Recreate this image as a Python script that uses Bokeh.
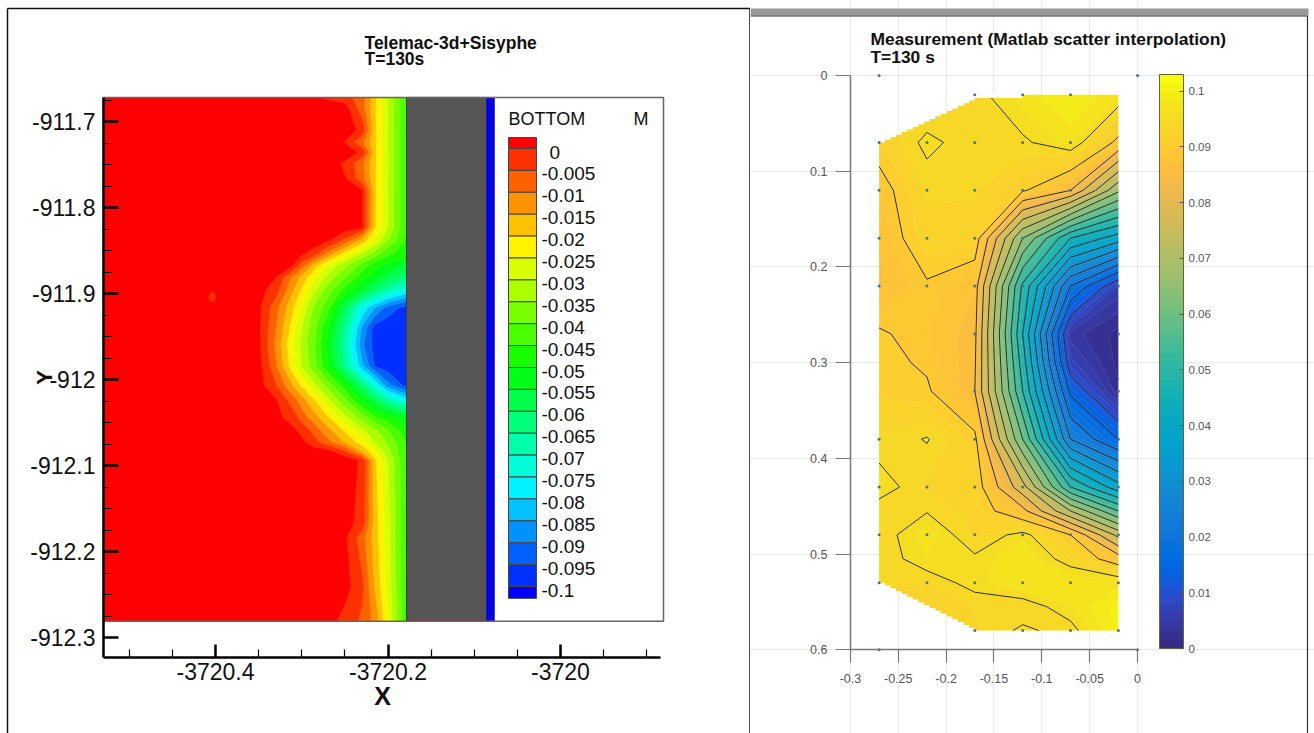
from bokeh.plotting import figure
from bokeh.layouts import row
from bokeh.embed import file_html
from bokeh.resources import INLINE
from bokeh.core.properties import value
from bokeh.models import Range1d, FixedTicker, ColorBar, LinearColorMapper
import numpy as np

FONT = "Liberation Sans"

# ---------- left panel data: Telemac-3d+Sisyphe, BOTTOM (m) ----------
left_title = ["Telemac-3d+Sisyphe", "T=130s"]
tec_x = [-3720.53, -3720.40, -3720.35, -3720.33, -3720.31, -3720.30, -3720.285,
         -3720.27, -3720.25, -3720.23, -3720.215, -3720.20, -3720.1786]
tec_y = [-911.672, -911.684, -911.710, -911.724, -911.736, -911.748, -911.766, -911.780,
         -911.823, -911.838, -911.853, -911.867, -911.881, -911.897, -911.916, -911.940,
         -911.960, -911.984, -912.007, -912.024, -912.044, -912.059, -912.073, -912.085,
         -912.094, -912.167, -912.184, -912.242, -912.281]
tec_z = [
 [.003,.003,.003,.003,.003,.003,.001,-.001,-.003,-.008,-.0195,-.030,-.0455],
 [.003,.003,.003,.003,.003,.003,.003,.003,.002,-.008,-.0195,-.030,-.0455],
 [.003,.003,.003,.003,.003,.003,.003,.003,.004,-.002,-.0195,-.030,-.0455],
 [.003,.003,.003,.003,.003,.003,.003,.003,-.0003,-.009,-.0195,-.030,-.0455],
 [.003,.003,.003,.003,.003,.003,.003,.003,.004,-.0015,-.0195,-.030,-.0455],
 [.003,.003,.003,.003,.003,.003,.003,.003,-.001,-.009,-.0195,-.030,-.0455],
 [.003,.003,.003,.003,.003,.003,.003,.003,.0002,-.008,-.0195,-.030,-.0455],
 [.003,.003,.003,.003,.003,.003,.003,.003,.004,.0002,-.0195,-.030,-.0455],
 [.003,.003,.003,.003,.003,.003,.003,.003,.003,0,-.020,-.030,-.0455],
 [.003,.003,.003,.003,.003,.003,.003,.001,-.0065,-.017,-.0255,-.035,-.046],
 [.003,.003,.003,.003,.002,.001,-.0026,-.011,-.0216,-.0305,-.037,-.0435,-.048],
 [.003,.003,.003,.002,0,-.007,-.0177,-.0258,-.0338,-.0417,-.048,-.051,-.056],
 [.003,.003,.003,0,-.0116,-.0167,-.0245,-.0315,-.0395,-.048,-.053,-.058,-.063],
 [.003,.003,.002,-.003,-.015,-.021,-.030,-.038,-.047,-.0555,-.062,-.069,-.077],
 [.003,.003,.001,-.0082,-.0197,-.0258,-.0365,-.0428,-.059,-.0755,-.085,-.092,-.097],
 [.003,.003,.001,-.010,-.023,-.030,-.039,-.0495,-.065,-.0865,-.0975,-.0985,-.0995],
 [.003,.003,.001,-.0112,-.0253,-.0315,-.040,-.0515,-.0675,-.089,-.0975,-.0985,-.0995],
 [.003,.003,.002,-.0095,-.024,-.0305,-.039,-.0495,-.065,-.084,-.096,-.098,-.0995],
 [.003,.003,.002,-.0045,-.0155,-.021,-.029,-.037,-.048,-.0615,-.074,-.0885,-.097],
 [.003,.003,.003,.0005,-.008,-.0129,-.0203,-.0285,-.039,-.0506,-.059,-.067,-.077],
 [.003,.003,.003,.0015,-.0025,-.0075,-.0135,-.0198,-.029,-.0375,-.0445,-.048,-.054],
 [.003,.003,.003,.003,.001,-.0014,-.0075,-.0135,-.021,-.0285,-.034,-.040,-.048],
 [.003,.003,.003,.003,.003,.001,-.003,-.0085,-.0155,-.023,-.030,-.036,-.0455],
 [.003,.003,.003,.003,.003,.003,.003,.003,-.003,-.015,-.024,-.033,-.0455],
 [.003,.003,.003,.003,.003,.003,.003,.003,.003,-.001,-.0195,-.030,-.0455],
 [.003,.003,.003,.003,.003,.003,.003,.003,.002,-.002,-.018,-.028,-.0455],
 [.003,.003,.003,.003,.003,.003,.003,.003,.001,-.008,-.018,-.028,-.0455],
 [.003,.003,.003,.003,.003,.003,.003,.003,.002,-.004,-.016,-.027,-.0455],
 [.003,.003,.003,.003,.003,.003,.003,.002,-.002,-.006,-.012,-.025,-.0455],
]
tec_levels = [-.2, -.1, -.095, -.09, -.085, -.08, -.075, -.07, -.065, -.06, -.055, -.05,
              -.045, -.04, -.035, -.03, -.025, -.02, -.015, -.01, -.005, 0, .1]
tec_colors = ["#0000ff", "#0030ff", "#0061ff", "#0092ff", "#00c2ff", "#00f3ff", "#00ffd9",
              "#00ffaa", "#00ff79", "#00ff49", "#00ff18", "#18ff00", "#49ff00", "#79ff00",
              "#aaff00", "#d9ff00", "#fff300", "#ffc200", "#ff9200", "#ff6100", "#ff3000",
              "#ff0000"]
legend_tops = [.0025, 0, -.005, -.01, -.015, -.02, -.025, -.03, -.035, -.04, -.045, -.05,
               -.055, -.06, -.065, -.07, -.075, -.08, -.085, -.09, -.095, -.1]
legend_bottoms = legend_tops[1:] + [-.1027]
legend_label_values = [-.005, -.01, -.015, -.02, -.025, -.03, -.035, -.04, -.045, -.05, -.055,
                       -.06, -.065, -.07, -.075, -.08, -.085, -.09, -.095, -.1]
legend_labels = ["-0.005", "-0.01", "-0.015", "-0.02", "-0.025", "-0.03", "-0.035", "-0.04",
                 "-0.045", "-0.05", "-0.055", "-0.06", "-0.065", "-0.07", "-0.075", "-0.08",
                 "-0.085", "-0.09", "-0.095", "-0.1"]
tec_x_ticks = [-3720.4, -3720.2, -3720.0]
tec_x_labels = {-3720.4: "-3720.4", -3720.2: "-3720.2", -3720.0: "-3720"}
tec_x_minor = [-3720.5, -3720.45, -3720.35, -3720.3, -3720.25, -3720.15, -3720.1, -3720.05,
               -3719.95, -3719.9]
tec_y_ticks = [-911.7, -911.8, -911.9, -912.0, -912.1, -912.2, -912.3]
tec_y_labels = {-911.7: "-911.7", -911.8: "-911.8", -911.9: "-911.9", -912.0: "-912",
                -912.1: "-912.1", -912.2: "-912.2", -912.3: "-912.3"}
tec_y_minor = [-911.675, -911.725, -911.75, -911.775, -911.825, -911.85, -911.875, -911.925,
               -911.95, -911.975, -912.025, -912.05, -912.075, -912.125, -912.15, -912.175,
               -912.225, -912.25, -912.275]
spot_x = [-3720.408, -3720.403, -3720.399, -3720.402, -3720.407]
spot_y = [-911.902, -911.897, -911.903, -911.910, -911.909]

# ---------- right panel data: Measurement ----------
right_title = ["Measurement (Matlab scatter interpolation)", "T=130 s"]
meas_x = [-0.27, -0.22, -0.17, -0.12, -0.07, -0.02]
meas_y = [0.02, 0.07, 0.12, 0.17, 0.22, 0.27, 0.30, 0.33, 0.38, 0.43, 0.455, 0.48, 0.505, 0.53, 0.555, 0.58]
meas_z = [
 [.092, .092, .094, .0975, .100, .097],
 [.0915, .0958, .0935, .0945, .097, .089],
 [.0885, .0935, .0935, .0905, .085, .066],
 [.087, .093, .0925, .065, .045, .0375],
 [.0865, .0895, .087, .049, .020, .006],
 [.0905, .0885, .086, .045, .004, .001],
 [.091, .0895, .0855, .0475, .007, .001],
 [.0915, .0905, .085, .050, .014, .002],
 [.0935, .0952, .091, .060, .025, .015],
 [.0965, .093, .0925, .077, .050, .037],
 [.0935, .0948, .0925, .0865, .070, .055],
 [.0935, .0975, .093, .096, .090, .0735],
 [.0935, .0965, .0955, .098, .0935, .0875],
 [.0935, .0935, .096, .098, .098, .0975],
 [.092, .092, .0935, .0935, .0965, .1005],
 [.092, .092, .093, .0955, .094, .100],
]
line_levels = [.01, .015, .02, .025, .03, .035, .04, .045, .05, .055, .06, .065, .07, .075,
               .08, .085, .09, .095]
dot_x = [-.27, 0, -.17, -.12, -.07, -.27, -.22, -.17, -.12, -.07, -.27, -.22, -.17, -.12, -.07,
         -.27, -.22, -.17, -.12, -.27, -.22, -.17, -.12, -.02, -.17, -.02, -.17, -.02,
         -.27, -.17, -.02, -.27, -.22, -.17, -.12, -.07, -.02, -.27, -.22, -.17, -.12, -.07, -.02,
         -.27, -.22, -.17, -.12, -.07, -.02, -.17, -.12, -.07, -.02, -.27, 0]
dot_y = [0, 0, .02, .02, .02, .07, .07, .07, .07, .07, .12, .12, .12, .12, .12,
         .17, .17, .17, .17, .22, .22, .22, .22, .22, .27, .27, .33, .33,
         .38, .38, .38, .43, .43, .43, .43, .43, .43, .48, .48, .48, .48, .48, .48,
         .53, .53, .53, .53, .53, .53, .58, .58, .58, .58, .6, .6]
meas_x_ticks = [-.3, -.25, -.2, -.15, -.1, -.05, 0]
meas_x_labels = {-.3: "-0.3", -.25: "-0.25", -.2: "-0.2", -.15: "-0.15", -.1: "-0.1", -.05: "-0.05", 0: "0"}
meas_y_ticks = [0, .1, .2, .3, .4, .5, .6]
meas_y_labels = {0: "0", .1: "0.1", .2: "0.2", .3: "0.3", .4: "0.4", .5: "0.5", .6: "0.6"}
bar_ticks = [0, .01, .02, .03, .04, .05, .06, .07, .08, .09, .1]
bar_labels = {0: "0", .01: "0.01", .02: "0.02", .03: "0.03", .04: "0.04", .05: "0.05",
              .06: "0.06", .07: "0.07", .08: "0.08", .09: "0.09", .1: "0.1"}
bar_high = 0.103
parula_rgb = [
 (.2081,.1663,.5292),(.2116,.1898,.5777),(.2123,.2138,.6270),(.2081,.2386,.6771),(.1959,.2645,.7279),
 (.1707,.2919,.7792),(.1253,.3242,.8303),(.0591,.3598,.8683),(.0117,.3875,.8820),(.0060,.4086,.8828),
 (.0165,.4266,.8786),(.0329,.4430,.8720),(.0498,.4586,.8641),(.0629,.4737,.8554),(.0723,.4887,.8467),
 (.0779,.5040,.8384),(.0793,.5200,.8312),(.0749,.5375,.8263),(.0641,.5570,.8240),(.0488,.5772,.8228),
 (.0343,.5966,.8199),(.0265,.6137,.8135),(.0239,.6287,.8038),(.0231,.6418,.7913),(.0228,.6535,.7768),
 (.0267,.6642,.7607),(.0384,.6743,.7436),(.0590,.6838,.7254),(.0843,.6928,.7062),(.1133,.7015,.6859),
 (.1453,.7098,.6646),(.1801,.7177,.6424),(.2178,.7250,.6193),(.2586,.7317,.5954),(.3022,.7376,.5712),
 (.3482,.7424,.5473),(.3953,.7459,.5244),(.4420,.7481,.5033),(.4871,.7491,.4840),(.5300,.7491,.4661),
 (.5709,.7485,.4494),(.6099,.7473,.4337),(.6473,.7456,.4188),(.6834,.7435,.4044),(.7184,.7411,.3905),
 (.7525,.7384,.3768),(.7858,.7356,.3633),(.8185,.7327,.3498),(.8507,.7299,.3360),(.8824,.7274,.3217),
 (.9139,.7258,.3063),(.9450,.7261,.2886),(.9739,.7314,.2666),(.9938,.7455,.2403),(.9990,.7653,.2164),
 (.9955,.7861,.1967),(.9880,.8066,.1794),(.9789,.8271,.1633),(.9697,.8481,.1475),(.9626,.8705,.1309),
 (.9589,.8949,.1132),(.9598,.9218,.0948),(.9661,.9514,.0755),(.9763,.9831,.0538)]
parula = ["#%02x%02x%02x" % tuple(int(round(c * 255)) for c in t) for t in parula_rgb]

# Both panels use the whole canvas as the plot frame, so that every axis,
# text and panel edge can be placed in the frame. Page pixel <-> data:
def LX(px): return -3720.4 + (px - 215) / 862.5
def LY(py): return -911.7 - (py - 121) / 860.0
def RX(px): return (px - 1137) / 957.0
def RY(py): return (py - 75) / 957.0

# ================= LEFT =================
p1 = figure(width=750, height=733, output_backend="svg", toolbar_location=None,
            x_range=Range1d(LX(0), LX(750)), y_range=Range1d(LY(733), LY(0)),
            min_border=0, outline_line_color=None, background_fill_color="white")
p1.grid.visible = False
p1.extra_y_ranges["legend"] = Range1d(-(733 - 148) / 4380.0, 148 / 4380.0)

ax = np.array(tec_x); ay = np.array(tec_y)[::-1]; az = np.array(tec_z)[::-1]
p1.contour(ax, ay, az, tec_levels, fill_color=tec_colors,
           line_color=tec_colors + [tec_colors[-1]], line_width=0.8)
p1.patch(spot_x, spot_y, fill_color=tec_colors[-2], line_color=None)
p1.quad(left=[tec_x[-1]], right=[LX(486)], bottom=[tec_y[-1]], top=[tec_y[0]],
        fill_color="#565656", line_color="#3a3a3a", line_width=1)
p1.quad(left=[LX(486)], right=[LX(494)], bottom=[tec_y[-1]], top=[tec_y[0]],
        fill_color="#0000ee", line_color="#222266", line_width=0.6)
p1.segment(x0=[tec_x[-1]], x1=[LX(484)], y0=[tec_y[-1]], y1=[tec_y[-1]],
           line_color="#a01818", line_width=1.5)
p1.quad(left=[tec_x[0]], right=[LX(663)], bottom=[tec_y[-1]], top=[tec_y[0]],
        fill_color=None, line_color="#666666", line_width=1.5)

# legend
p1.quad(left=LX(508), right=LX(536), top=legend_tops, bottom=legend_bottoms,
        fill_color=tec_colors[::-1], line_color="#444444", line_width=1, y_range_name="legend")
p1.text(x=[LX(541)] * len(legend_labels), y=legend_label_values, text=legend_labels,
        y_range_name="legend", text_font=value(FONT), text_font_size="19px",
        text_color="#111111", text_baseline="middle", text_align="left", y_offset=3.5)
p1.text(x=[LX(549)], y=[0], text=["0"], y_range_name="legend", text_font=value(FONT),
        text_font_size="19px", text_color="#111111", text_baseline="middle", y_offset=3.5)
p1.text(x=[LX(508), LX(633)], y=[LY(118), LY(118)], text=["BOTTOM", "M"], text_font=value(FONT),
        text_font_size="18px", text_color="#111111", text_baseline="middle")

xa = p1.xaxis[0]
xa.fixed_location = LY(657)
xa.ticker = FixedTicker(ticks=tec_x_ticks, minor_ticks=tec_x_minor)
xa.major_label_overrides = tec_x_labels
xa.bounds = (LX(103), LX(660))
ya = p1.yaxis[0]
ya.fixed_location = LX(103)
ya.bounds = (LY(657), LY(97))
ya.ticker = FixedTicker(ticks=tec_y_ticks, minor_ticks=tec_y_minor)
ya.major_label_overrides = tec_y_labels
ya.major_label_orientation = "horizontal"
for a, n in ((xa, 13), (ya, 15)):
    a.axis_line_color = "black"; a.axis_line_width = 2.5
    a.major_tick_line_color = "black"; a.major_tick_line_width = 2.5
    a.minor_tick_line_color = "black"; a.minor_tick_line_width = 1.2
    a.major_tick_in = n; a.major_tick_out = 0
    a.minor_tick_in = 8; a.minor_tick_out = 0
    a.major_label_text_font = FONT
    a.major_label_text_font_size = "23px"
    a.major_label_text_color = "#111111"
xa.major_label_standoff = 5
ya.major_label_standoff = 8

p1.text(x=[LX(382)], y=[LY(695)], text=["X"], text_font=value(FONT), text_font_style="bold",
        text_font_size="25px", text_color="#111111", text_align="center", text_baseline="middle")
p1.text(x=[LX(44)], y=[LY(377)], text=["Y"], angle=[np.pi / 2], text_font=value(FONT), text_font_style="bold",
        text_font_size="22px", text_color="#111111", text_align="center", text_baseline="middle")
p1.text(x=[LX(364), LX(364)], y=[LY(42), LY(58)], text=left_title, text_font=value(FONT),
        text_font_style="bold", text_font_size="17.5px", text_color="#111111", text_baseline="middle")
# panel edges
p1.segment(x0=[LX(7), LX(7), LX(749.5)], x1=[LX(749.5), LX(7), LX(749.5)],
           y0=[LY(8), LY(8), LY(8)], y1=[LY(8), LY(733), LY(733)], line_color="#111111", line_width=1.5)

# ================= RIGHT =================
p2 = figure(width=564, height=733, output_backend="svg", toolbar_location=None,
            x_range=Range1d(RX(750), RX(1314)), y_range=Range1d(RY(733), RY(0)),
            min_border=0, outline_line_color=None, background_fill_color="white")

band_levels = [i * bar_high / 64 for i in range(65)]
bx = np.array(meas_x); by = np.array(meas_y); bz = np.array(meas_z)
p2.contour(bx, by, bz, band_levels, fill_color=parula, line_color=parula + [parula[-1]], line_width=0.7)
p2.contour(bx, by, bz, line_levels, line_color="#2f2f2f", line_width=1)

# staircase edge of the interpolation hull
steps = 17
sx = 0.1 / steps
top_px = [-0.271]; top_py = [0.019]
for i in range(steps):
    xx = -0.27 + i * sx
    yy = 0.07 - i * (0.0465 / steps)
    top_px += [xx, xx + sx] if i else [-0.271, xx + sx]
    top_py += [yy, yy]
top_px += [-0.17, -0.12, -0.12, -0.17]; top_py += [0.0235, 0.0235, 0.019, 0.019]
bot_px = [-0.271]; bot_py = [0.581]
for i in range(steps):
    xx = -0.27 + i * sx
    yy = 0.53 + i * (0.05 / steps)
    bot_px += [xx, xx + sx] if i else [-0.271, xx + sx]
    bot_py += [yy, yy]
bot_px += [-0.17]; bot_py += [0.581]
p2.patches([top_px, bot_px], [top_py, bot_py], fill_color="white", line_color=None)
p2.segment(x0=[-.25, -.2, -.25, -.2], x1=[-.25, -.2, -.25, -.2],
           y0=[.02, .02, .54, .565], y1=[.06, .037, .58, .58], line_color="#e8e8e8", line_width=1)
p2.scatter(dot_x, dot_y, size=3, color="#3f7a8c", line_color=None)

p2.xgrid.bounds = (0, .6); p2.ygrid.bounds = (-.3, 0)
p2.xgrid.grid_line_color = "#e8e8e8"; p2.ygrid.grid_line_color = "#e8e8e8"
xb = p2.xaxis[0]; yb = p2.yaxis[0]
xb.ticker = FixedTicker(ticks=meas_x_ticks); xb.major_label_overrides = meas_x_labels
yb.ticker = FixedTicker(ticks=meas_y_ticks); yb.major_label_overrides = meas_y_labels
xb.fixed_location = 0.6; yb.fixed_location = -0.3
xb.bounds = (-.3, 0); yb.bounds = (0, .6)
yb.major_label_orientation = "horizontal"
for a, n in ((xb, 13), (yb, 15)):
    a.axis_line_color = "#777777"; a.axis_line_width = 1.5
    a.major_tick_line_color = "#777777"; a.major_tick_line_width = 1.2
    a.major_tick_in = 0; a.major_tick_out = n
    a.minor_tick_line_color = None
    a.major_label_text_font = FONT
    a.major_label_text_font_size = "12.5px"
    a.major_label_text_color = "#555555"
xb.major_label_standoff = 11
yb.major_label_standoff = 8

mapper = LinearColorMapper(palette=parula, low=0, high=bar_high)
cb = ColorBar(color_mapper=mapper, ticker=FixedTicker(ticks=bar_ticks), major_label_overrides=bar_labels,
              width=24, height=574, location=(409, 85), padding=0, margin=0,
              major_tick_in=4, major_tick_out=0, major_tick_line_color="#555555", minor_tick_line_color=None,
              bar_line_color="#666633", bar_line_width=1, major_label_text_font=FONT,
              major_label_text_font_size="11.5px", major_label_text_color="#555555", label_standoff=5,
              border_line_color=None, background_fill_color=None)
p2.add_layout(cb)

p2.text(x=[RX(870), RX(870)], y=[RY(38), RY(56)], text=right_title, text_font=value(FONT),
        text_font_style="bold", text_font_size="17.4px", text_color="#111111", text_baseline="middle")
p2.quad(left=[RX(750)], right=[RX(1308)], top=[RY(8)], bottom=[RY(15)], fill_color="#999999", line_color=None)
p2.segment(x0=[RX(750), RX(1307)], x1=[RX(1307), RX(1307)], y0=[RY(15.5), RY(15.5)], y1=[RY(15.5), RY(733)],
           line_color="#333333", line_width=1.2)

open("out.html", "w").write(file_html(row(p1, p2, spacing=0), INLINE))
